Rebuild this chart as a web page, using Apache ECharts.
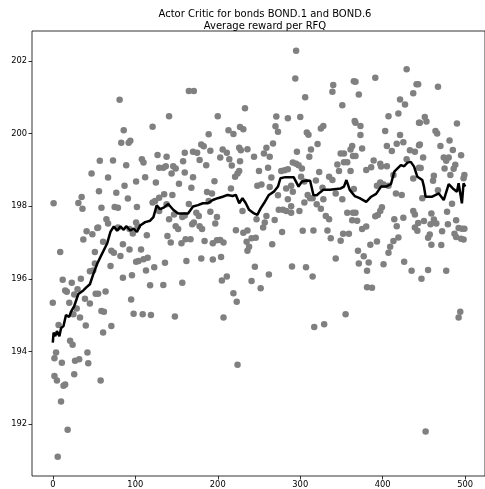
<!DOCTYPE html>
<html>
<head>
<meta charset="utf-8">
<script src="https://cdn.jsdelivr.net/npm/echarts@6/dist/echarts.min.js"></script>
<style>
  html, body { margin: 0; padding: 0; background: #fff; }
  #reward-chart { width: 485px; height: 489px; }
</style>
</head>
<body>
<div id="reward-chart"></div>
<script>
// reward of each RFQ episode (scatter)
const episodes = [
  47, 1, 31, 35, 36, 41, 48, 37, 54, 9, 51, 51, 49, 45, 12, 15, 17, 23, 30, 34, 26, 39, 45, 52, 0, 20, 29, 33, 40, 25, 7, 21, 24, 4, 2, 11, 27, 32, 42, 43, 26, 2, 5, 15, 13, 10, 18, 6,
  81, 86, 83, 92, 94, 121, 57, 73, 89, 108, 110, 127, 129, 67, 112, 101, 125, 87, 56, 77, 91, 75, 79, 59, 102, 121, 124, 129, 129, 65, 67, 55, 79, 101, 103, 93, 97, 114, 85, 61, 71, 74, 82, 93, 107, 115, 110, 101, 104, 70, 85, 96, 113, 123, 118, 55, 64, 95, 59, 62, 98, 109, 119, 71, 61, 58,
  165, 171, 141, 200, 189, 180, 183, 138, 170, 175, 160, 191, 206, 203, 134, 137, 146, 149, 158, 178, 186, 144, 160, 170, 153, 168, 196, 187, 193, 135, 145, 189, 165, 138, 147, 157, 160, 174, 177, 191, 199, 141, 169, 171, 149, 152, 178, 181, 197, 139, 143, 161, 167, 156, 184, 194, 199, 203, 207, 136, 162, 180, 194, 204, 134, 157, 205, 148, 207,
  233, 271, 285, 213, 219, 227, 231, 270, 273, 267, 211, 214, 226, 228, 236, 244, 256, 259, 263, 217, 227, 250, 261, 221, 224, 226, 265, 277, 281, 285, 248, 253, 216, 263, 283, 273, 285, 230, 274, 279, 283, 259, 247, 269, 257, 255, 222, 231, 236, 278, 241, 246, 235, 238, 236, 266, 245, 262, 211, 241, 252, 219, 223, 224,
  295, 294, 306, 340, 339, 365, 351, 300, 328, 325, 366, 308, 310, 321, 296, 313, 363, 361, 349, 353, 311, 291, 295, 298, 302, 364, 345, 353, 357, 323, 347, 361, 335, 339, 301, 305, 319, 327, 289, 291, 365, 309, 343, 312, 315, 305, 320, 325, 328, 351, 289, 289, 299, 331, 335, 357, 364, 363, 303, 316, 333, 352, 359, 337, 349, 343, 290, 307, 315, 355, 317, 329,
  429, 391, 367, 441, 437, 371, 421, 427, 419, 407, 367, 373, 403, 444, 373, 421, 417, 425, 405, 444, 375, 411, 433, 439, 367, 429, 389, 380, 386, 397, 398, 405, 413, 437, 444, 393, 397, 401, 407, 416, 423, 367, 369, 391, 394, 397, 399, 414, 425, 437, 439, 417, 375, 380, 439, 442, 419, 413, 385, 393, 409, 407, 370, 377, 371, 383, 381, 401, 426, 435, 381, 387,
  443, 467, 451, 445, 453, 490, 464, 466, 445, 481, 470, 485, 449, 474, 480, 477, 495, 488, 486, 446, 475, 499, 498, 462, 461, 482, 467, 448, 484, 478, 459, 462, 450, 443, 458, 465, 489, 479, 492, 496, 499, 487, 489, 495, 498, 472, 457, 455, 459, 471, 455, 447, 477, 494, 492, 452
];
const rewards = [
  198.90, 198.08, 198.09, 198.25, 197.93, 197.31, 197.23, 197.08, 197.40, 196.74, 196.74, 196.42, 196.23, 196.21, 195.97, 195.68, 195.64, 195.89, 195.71, 196.00, 195.57, 195.45, 195.32, 195.59, 195.34, 195.34, 195.18, 194.93, 194.71, 195.02, 194.73, 194.29, 194.18, 193.97, 193.81, 193.69, 193.74, 193.78, 193.97, 193.67, 193.37, 193.32, 193.20, 193.09, 193.05, 192.62, 191.84, 191.10,
  200.93, 200.09, 199.75, 199.75, 199.80, 200.19, 199.25, 199.26, 199.13, 199.29, 199.20, 199.41, 199.06, 198.79, 198.80, 198.68, 198.65, 198.56, 198.41, 198.37, 198.21, 197.98, 197.96, 197.96, 197.98, 198.10, 198.14, 198.23, 197.87, 197.64, 197.52, 197.41, 197.41, 197.55, 197.45, 197.37, 197.25, 197.20, 196.95, 197.02, 196.77, 196.72, 196.63, 196.81, 196.81, 196.58, 196.54, 196.47, 196.49, 196.35, 196.03, 196.10, 196.23, 196.32, 195.82, 195.59, 195.65, 195.43, 195.11, 195.09, 195.04, 195.02, 195.00, 194.70, 194.52, 193.20,
  201.17, 201.17, 200.48, 200.48, 199.98, 199.70, 199.65, 199.36, 199.50, 199.47, 199.47, 199.53, 199.56, 199.34, 199.06, 199.10, 199.10, 199.04, 199.24, 199.27, 199.13, 198.90, 198.93, 198.80, 198.62, 198.51, 198.69, 198.39, 198.35, 198.33, 198.31, 198.14, 198.06, 198.05, 197.77, 197.70, 197.74, 197.82, 197.73, 197.85, 197.70, 197.64, 197.50, 197.55, 197.45, 197.37, 197.45, 197.37, 197.52, 197.18, 197.00, 197.09, 197.09, 196.98, 197.04, 196.98, 197.06, 197.07, 197.00, 196.44, 196.49, 196.56, 196.53, 196.60, 195.83, 195.89, 195.95, 194.96, 194.93,
  200.70, 200.47, 200.42, 200.09, 199.99, 200.18, 200.12, 200.20, 200.05, 199.73, 199.47, 199.29, 199.61, 199.54, 199.57, 199.36, 199.45, 199.61, 199.36, 199.12, 199.24, 198.97, 199.06, 198.81, 198.90, 198.97, 198.79, 198.97, 198.99, 199.02, 198.56, 198.60, 198.49, 198.53, 198.49, 198.30, 198.19, 197.87, 197.90, 197.90, 197.87, 197.73, 197.64, 197.62, 197.55, 197.41, 197.34, 197.27, 197.33, 197.29, 197.12, 197.13, 197.02, 196.88, 196.77, 196.95, 196.33, 196.12, 196.06, 195.94, 195.74, 195.60, 195.37, 193.63,
  202.28, 201.52, 201.00, 201.34, 201.15, 201.44, 200.78, 200.46, 200.21, 200.14, 200.35, 200.03, 199.97, 199.71, 199.50, 199.56, 199.66, 199.56, 199.45, 199.45, 199.36, 199.20, 199.17, 199.13, 199.04, 199.38, 199.15, 199.21, 199.21, 198.94, 198.97, 198.97, 198.81, 198.72, 198.81, 198.68, 198.71, 198.51, 198.56, 198.40, 198.47, 198.31, 198.35, 198.22, 198.22, 198.10, 198.05, 197.93, 198.19, 198.19, 198.00, 197.82, 197.87, 197.73, 197.64, 197.82, 197.82, 197.61, 197.32, 197.33, 197.33, 197.24, 197.24, 197.12, 197.05, 196.56, 196.34, 196.32, 196.06, 195.02, 194.67, 194.75,
  201.77, 201.54, 201.43, 201.36, 201.11, 201.08, 200.94, 200.80, 200.55, 200.48, 200.30, 200.21, 200.07, 200.30, 199.96, 199.96, 199.72, 199.76, 199.66, 199.68, 199.59, 199.52, 199.54, 199.50, 199.38, 199.29, 199.26, 199.00, 199.07, 199.17, 199.09, 199.10, 198.86, 198.76, 199.06, 198.56, 198.65, 198.60, 198.56, 198.35, 198.31, 197.82, 197.60, 197.72, 197.76, 197.87, 197.97, 197.64, 197.68, 197.87, 197.77, 197.45, 197.37, 197.44, 197.41, 197.32, 197.14, 197.04, 196.94, 197.03, 196.88, 196.72, 196.77, 196.62, 196.42, 196.45, 196.22, 196.40, 196.47, 196.22, 195.77, 195.75,
  201.36, 201.29, 200.46, 200.30, 200.33, 200.28, 200.07, 200.00, 199.70, 199.81, 199.66, 199.55, 199.34, 199.34, 199.34, 199.25, 199.40, 199.14, 199.03, 199.05, 199.04, 198.86, 198.77, 198.84, 198.70, 198.86, 198.44, 198.22, 198.07, 197.85, 197.80, 197.63, 197.59, 197.54, 197.50, 197.52, 197.61, 197.50, 197.40, 197.38, 197.38, 197.24, 197.15, 197.10, 197.08, 197.31, 197.22, 197.13, 196.94, 196.93, 196.24, 196.00, 196.22, 195.09, 194.93, 191.79
];

// rolling average reward (black line)
const avgEpisodes = [0, 1, 3, 5, 8, 10, 13, 16, 20, 22, 26, 31, 37, 41, 45, 49, 54, 58, 66, 70, 74, 78, 82, 86, 89, 94, 98, 102, 106, 112, 118, 122, 126, 130, 135, 140, 146, 152, 158, 164, 170, 176, 182, 188, 194, 200, 206, 212, 218, 222, 226, 230, 234, 238, 244, 248, 252, 256, 262, 268, 273, 276, 282, 292, 298, 302, 308, 312, 316, 320, 324, 328, 336, 349, 353, 356, 360, 366, 372, 380, 386, 392, 398, 404, 410, 414, 418, 422, 426, 430, 434, 438, 442, 448, 450, 452, 460, 468, 474, 480, 485, 490, 492, 496, 498, 500];
const avgReward = [194.24, 194.52, 194.42, 194.56, 194.42, 194.64, 194.70, 195.00, 194.95, 195.09, 195.25, 195.58, 195.68, 195.77, 195.85, 196.12, 196.42, 196.61, 196.98, 197.30, 197.44, 197.32, 197.44, 197.35, 197.45, 197.33, 197.38, 197.29, 197.47, 197.56, 197.60, 197.70, 198.02, 197.92, 197.97, 198.06, 197.90, 197.80, 197.80, 197.80, 197.99, 198.03, 198.08, 198.08, 198.17, 198.22, 198.26, 198.31, 198.28, 198.31, 198.08, 198.22, 198.08, 197.90, 197.80, 197.76, 197.94, 198.08, 198.31, 198.40, 198.54, 198.77, 198.80, 198.80, 198.54, 198.68, 198.71, 198.70, 198.31, 198.30, 198.38, 198.45, 198.45, 198.49, 198.54, 198.72, 198.45, 198.28, 198.22, 198.12, 198.26, 198.34, 198.54, 198.54, 198.61, 198.95, 199.04, 199.13, 199.10, 199.20, 199.22, 199.09, 198.81, 198.72, 198.54, 198.26, 198.26, 198.35, 198.17, 198.61, 198.49, 198.40, 198.63, 198.08, 198.63, 198.54];

const xTicks = [0, 100, 200, 300, 400, 500];
const yTicks = [192, 194, 196, 198, 200, 202];

const chart = echarts.init(document.getElementById('reward-chart'));

const tickStyle = { color: '#000', width: 0.8 };
const labelStyle = { color: '#000', fontSize: 8.3, fontFamily: 'DejaVu Sans' };

chart.setOption({
    animation: false,
    title: {
        text: 'Actor Critic for bonds BOND.1 and BOND.6\nAverage reward per RFQ',
        left: 260,
        top: 4,
        textAlign: 'center',
        textStyle: {
            fontSize: 10,
            fontWeight: 'normal',
            fontFamily: 'DejaVu Sans',
            color: '#000',
            lineHeight: 11.5
        }
    },
    grid: {
        left: 32,
        top: 31,
        width: 457,
        height: 445,
        show: true,
        borderColor: '#000',
        borderWidth: 0.8
    },
    xAxis: {
        type: 'value',
        min: -25.2,
        max: 524,
        splitLine: { show: false },
        axisLine: { show: false, onZero: false },
        axisTick: { show: true, inside: false, length: 3.5, customValues: xTicks, lineStyle: tickStyle },
        axisLabel: Object.assign({ customValues: xTicks, margin: 5 }, labelStyle)
    },
    yAxis: {
        type: 'value',
        min: 190.567,
        max: 202.826,
        splitLine: { show: false },
        axisLine: { show: false, onZero: false },
        axisTick: { show: true, inside: false, length: 3.5, customValues: yTicks, lineStyle: tickStyle },
        axisLabel: Object.assign({ customValues: yTicks, margin: 5 }, labelStyle)
    },
    series: [
        {
            name: 'Reward',
            type: 'scatter',
            symbolSize: 6.5,
            itemStyle: { color: '#808080', opacity: 1 },
            data: episodes.map((e, i) => [e, rewards[i]]),
            z: 2
        },
        {
            name: 'Average reward',
            type: 'line',
            showSymbol: false,
            lineStyle: { color: '#000', width: 2.5 },
            data: avgEpisodes.map((e, i) => [e, avgReward[i]]),
            z: 3
        }
    ]
});
</script>
</body>
</html>
